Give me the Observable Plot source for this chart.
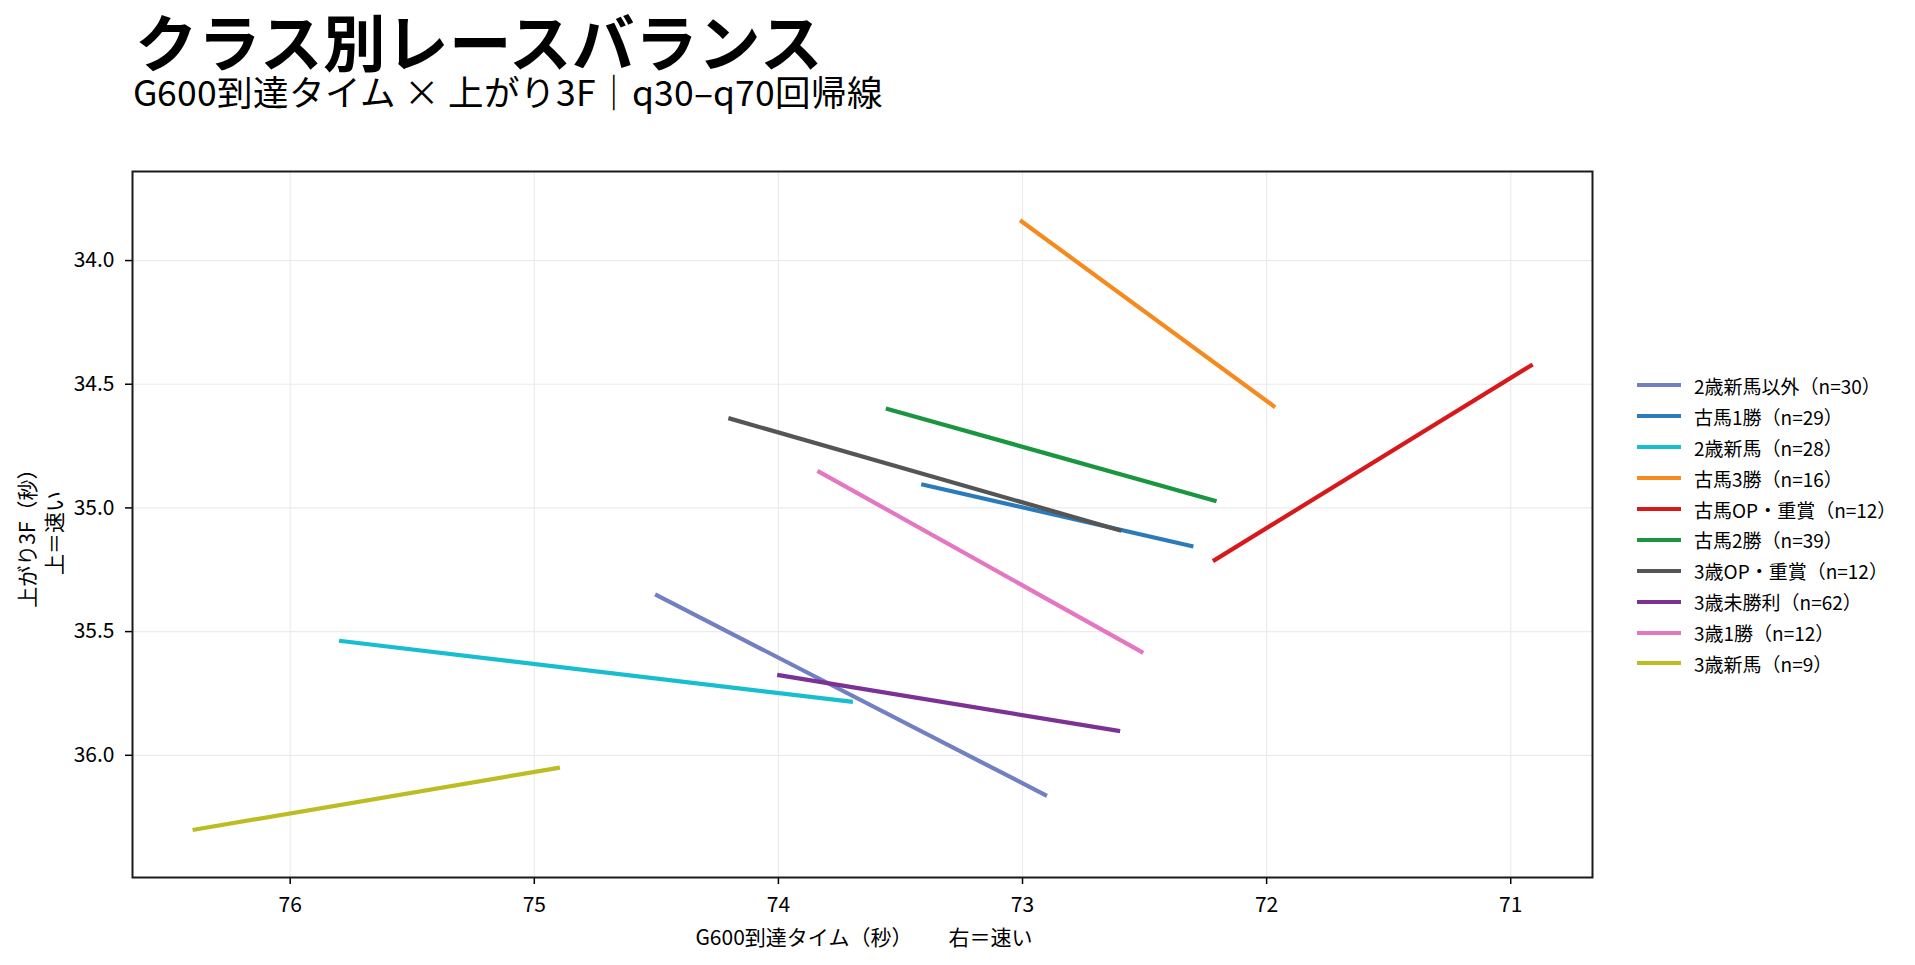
<!DOCTYPE html>
<html><head><meta charset="utf-8">
<script src="https://cdn.jsdelivr.net/npm/d3@7"></script>
<script src="https://cdn.jsdelivr.net/npm/@observablehq/plot@0.6"></script>
<style>
@font-face{font-family:"JPHead";font-weight:700;src:local("Noto Sans CJK JP Bold"),local("NotoSansCJKjp-Bold"),local("Noto Sans CJK JP");ascent-override:88%;descent-override:12%;line-gap-override:0%;}
@font-face{font-family:"JPHead";font-weight:400;src:local("Noto Sans CJK JP Regular"),local("NotoSansCJKjp-Regular"),local("Noto Sans CJK JP");ascent-override:88%;descent-override:12%;line-gap-override:0%;}
body{margin:0;background:#fff;font-family:"Noto Sans CJK JP","Noto Sans",sans-serif;}
#wrap{position:relative;width:1915px;height:965px;overflow:hidden;}
.abs{position:absolute;white-space:nowrap;color:#000;}
#title{left:135px;top:12.5px;font-family:"JPHead","Noto Sans CJK JP",sans-serif;font-size:62.5px;font-weight:700;line-height:1;}
#subtitle{left:133px;top:75px;font-family:"JPHead","Noto Sans CJK JP",sans-serif;font-size:35.5px;line-height:1;}
#chart{position:absolute;left:0;top:140px;}
#xlabel{left:864px;top:921px;transform:translateX(-50%);font-size:21px;}
#ylabel{left:40px;top:533px;transform:translate(-50%,-50%) rotate(-90deg);font-size:21px;text-align:center;line-height:1.3;}
#legend{left:1637px;top:370px;font-size:19px;}
.li{display:flex;align-items:center;height:30.9px;}
.sw{width:44px;height:4px;margin-right:13px;}
</style></head>
<body><div id="wrap">
<div id="title" class="abs">クラス別レースバランス</div>
<div id="subtitle" class="abs">G600到達タイム × 上がり3F｜q30–q70回帰線</div>
<div id="chart"></div>
<div id="xlabel" class="abs">G600到達タイム（秒）　　 右＝速い</div>
<div id="ylabel" class="abs">上がり3F（秒）<br>上＝速い</div>
<div id="legend" class="abs"></div>
</div>
<script>
const classes = ["2歳新馬以外","古馬1勝","2歳新馬","古馬3勝","古馬OP・重賞","古馬2勝","3歳OP・重賞","3歳未勝利","3歳1勝","3歳新馬"];
const counts  = [30,29,28,16,12,39,12,62,12,9];
const colors  = ["#7080c0","#2b7bba","#17becf","#f58a1f","#d7191c","#1a9641","#555555","#7b3294","#e377c2","#bcbd22"];
// regression segment endpoints (G600 time, last 3F)
const g600Start = [74.505,73.415,75.80,73.01,72.22,73.56,74.205,74.005,73.84,76.40];
const l3fStart  = [35.349,34.904,35.537,33.837,35.215,34.598,34.637,35.675,34.850,36.302];
const g600End   = [72.90,72.30,73.695,71.965,70.91,72.205,72.595,72.60,72.505,74.895];
const l3fEnd    = [36.164,35.156,35.784,34.593,34.420,34.973,35.092,35.902,35.586,36.050];
const xTicks = [76,75,74,73,72,71];
const yTicks = [34.0,34.5,35.0,35.5,36.0];

const segs = classes.map((c,i)=>({cls:c,x1:g600Start[i],y1:l3fStart[i],x2:g600End[i],y2:l3fEnd[i]}));

const chart = Plot.plot({
  width: 1602, height: 817,
  marginLeft: 132, marginRight: 10, marginTop: 31, marginBottom: 80,
  style: {fontFamily: '"Noto Sans CJK JP","Noto Sans",sans-serif', fontSize: "21px", background: "transparent", color: "#000"},
  x: {domain: [76.646, 70.665], label: null},
  y: {domain: [33.64, 36.494], reverse: true, label: null},
  color: {domain: classes, range: colors},
  marks: [
    Plot.gridX(xTicks, {stroke: "#ebebeb", strokeOpacity: 1, strokeWidth: 1.2}),
    Plot.gridY(yTicks, {stroke: "#ebebeb", strokeOpacity: 1, strokeWidth: 1.2}),
    Plot.axisX(xTicks, {tickFormat: d3.format("d"), tickSize: 7, tickPadding: 13, label: null, fontSize: 21, strokeWidth: 1.5}),
    Plot.axisY(yTicks, {tickFormat: d3.format(".1f"), tickSize: 7, tickPadding: 11, label: null, fontSize: 21, strokeWidth: 1.5}),
    Plot.link(segs, {x1: "x1", y1: "y1", x2: "x2", y2: "y2", stroke: "cls", strokeWidth: 4.2, strokeLinecap: "butt"}),
    Plot.frame({stroke: "#1a1a1a", strokeWidth: 2})
  ]
});
document.getElementById("chart").appendChild(chart);

const lg = document.getElementById("legend");
classes.forEach((c,i)=>{
  const d = document.createElement("div"); d.className="li";
  d.innerHTML = `<span class="sw" style="background:${colors[i]}"></span><span>${c}（n=${counts[i]}）</span>`;
  lg.appendChild(d);
});
</script>
</body></html>
